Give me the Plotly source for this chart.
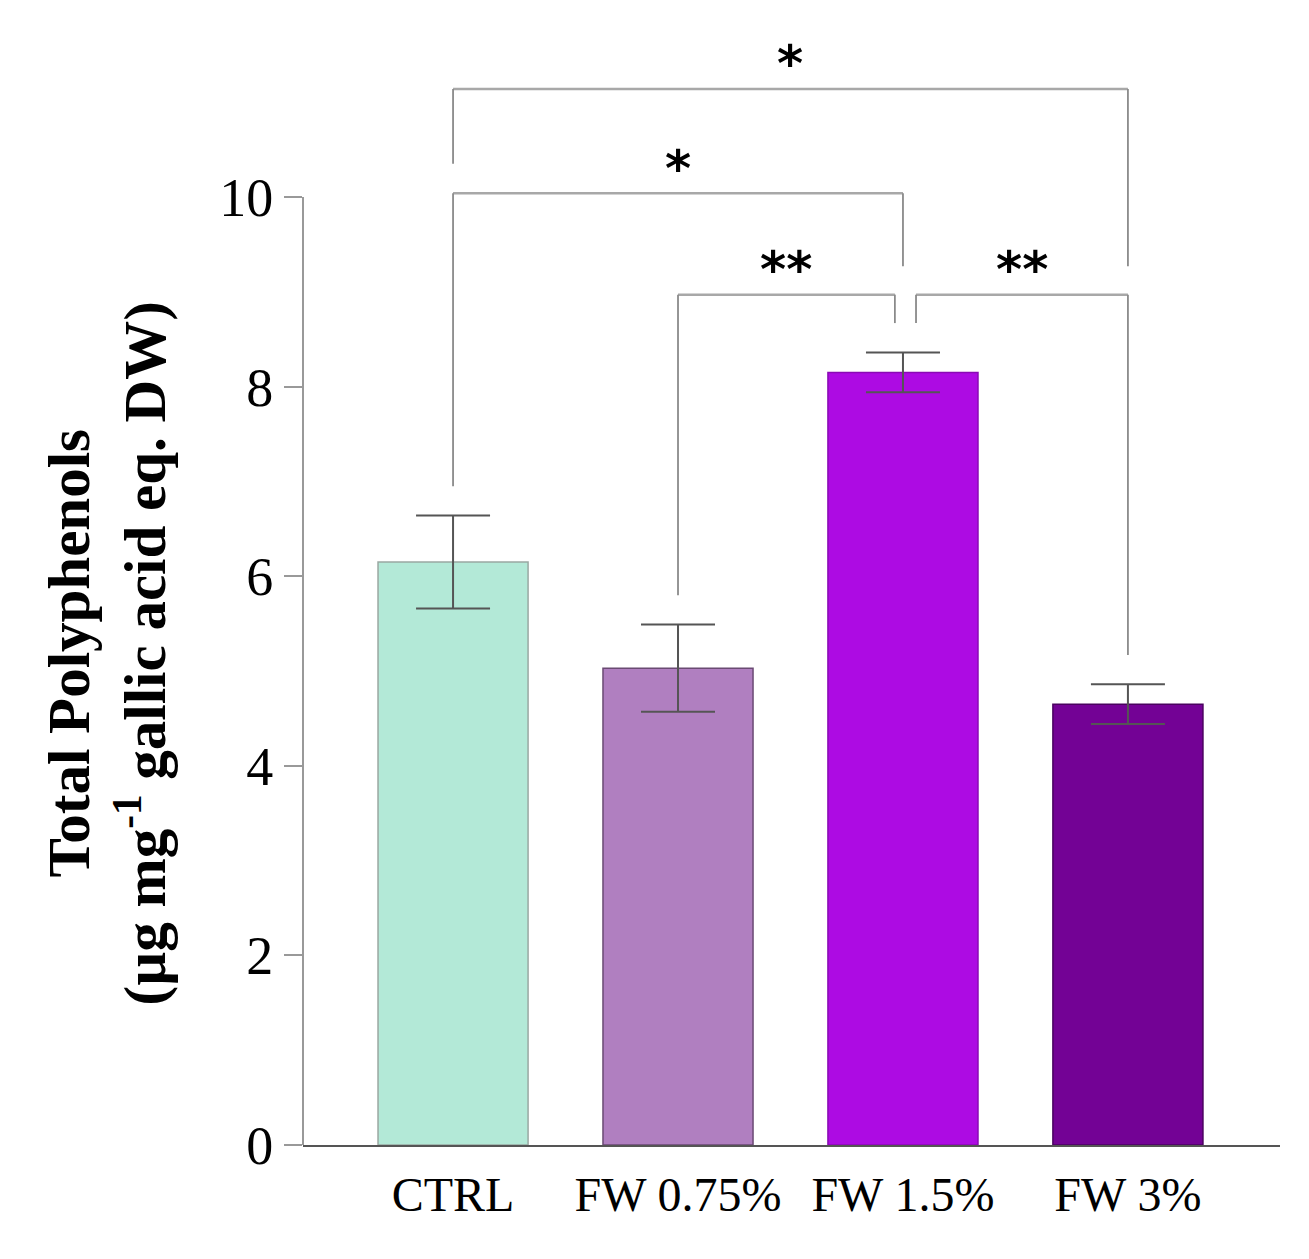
import plotly.graph_objects as go

categories = ["CTRL", "FW 0.75%", "FW 1.5%", "FW 3%"]
values = [6.15, 5.03, 8.15, 4.65]
errors = [0.49, 0.46, 0.21, 0.21]
colors = ["#b3e9d7", "#b07fc0", "#ad0be3", "#730295"]
outline = ["#9aa8a2", "#6a4a73", "#8a0ab5", "#4a0260"]

# significance brackets: (x_left, x_right, y_bar, y_left_end, y_right_end, label)
brackets = [
    (0.0, 3.0, 11.14, 10.35, 9.27, "*"),
    (0.0, 2.0, 10.04, 6.95, 9.27, "*"),
    (1.0, 1.964, 8.97, 5.80, 8.67, "**"),
    (2.058, 3.0, 8.97, 8.67, 5.17, "**"),
]
star_offset = 0.26

xs = list(range(len(categories)))
fig = go.Figure()
fig.add_trace(go.Bar(
    x=xs, y=values, width=0.667,
    marker=dict(color=colors, line=dict(color=outline, width=1.5)),
    error_y=dict(type="data", array=errors, visible=True,
                 color="#555555", thickness=2, width=37),
    showlegend=False,
))

shapes = []
annotations = []
for (x0, x1, yb, yl, yr, lab) in brackets:
    shapes.append(dict(type="line", xref="x", yref="y", x0=x0, x1=x1, y0=yb, y1=yb,
                       line=dict(color="#a8a8a8", width=2.5)))
    shapes.append(dict(type="line", xref="x", yref="y", x0=x0, x1=x0, y0=yb, y1=yl,
                       line=dict(color="#8a8a8a", width=1.8)))
    shapes.append(dict(type="line", xref="x", yref="y", x0=x1, x1=x1, y0=yb, y1=yr,
                       line=dict(color="#8a8a8a", width=1.8)))
    annotations.append(dict(x=(x0 + x1) / 2, y=yb + star_offset, xref="x", yref="y",
                            text="<b>" + lab + "</b>", showarrow=False, yanchor="middle",
                            font=dict(family="DejaVu Sans", size=50, color="black")))

# y-axis line from 0 to 10 only
shapes.append(dict(type="line", xref="paper", yref="y", x0=0, x1=0, y0=0, y1=10,
                   line=dict(color="#999999", width=2)))

annotations.append(dict(
    x=-0.2006, y=0.437, xref="paper", yref="paper", textangle=-90,
    xanchor="center", yanchor="middle", showarrow=False,
    text="<b>Total Polyphenols<br>(µg mg<sup>-1</sup> gallic acid eq. DW)</b>",
    font=dict(family="Liberation Serif", size=59, color="black"),
))

fig.update_layout(
    width=1309, height=1259,
    margin=dict(l=295, r=37, t=12, b=122),
    paper_bgcolor="white", plot_bgcolor="white",
    shapes=shapes, annotations=annotations,
    bargap=0.33,
)
fig.update_xaxes(
    range=[-0.667, 3.676], tickvals=xs, ticktext=categories,
    showline=True, linecolor="#555555", linewidth=2, ticks="",
    showgrid=False, zeroline=False,
    tickfont=dict(family="Liberation Serif", size=48, color="black"),
    ticklabelstandoff=6,
)
fig.update_yaxes(
    range=[0, 1125 / 94.8], tickvals=[0, 2, 4, 6, 8, 10],
    showline=False, ticks="outside", ticklen=18, tickcolor="#999999", tickwidth=2,
    showgrid=False, zeroline=False,
    tickfont=dict(family="Liberation Serif", size=54, color="black"),
    ticklabelstandoff=0,
)

fig.write_html("out.html")
